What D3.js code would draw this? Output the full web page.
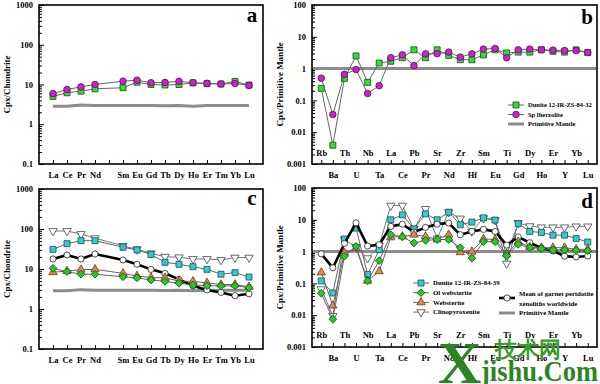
<html>
<head>
<script src="https://cdnjs.cloudflare.com/ajax/libs/d3/7.8.5/d3.min.js"></script>
<style>
body { margin: 0; background: #fff; }
text { font-family: "Liberation Serif", "Times New Roman", serif; font-weight: bold; }
</style>
</head>
<body></body>
<script>
// categories
var reeAxis = ["La","Ce","Pr","Nd","Pm","Sm","Eu","Gd","Tb","Dy","Ho","Er","Tm","Yb","Lu"];
var ree = ["La","Ce","Pr","Nd","Sm","Eu","Gd","Tb","Dy","Ho","Er","Tm","Yb","Lu"];
var spider = ["Rb","Ba","Th","U","Nb","Ta","La","Ce","Pb","Pr","Sr","Nd","Zr","Hf","Sm","Eu","Ti","Gd","Dy","Ho","Er","Y","Yb","Lu"];
var chondriteTicks = [0.1, 1, 10, 100, 1000];
var mantleTicks = [0.001, 0.01, 0.1, 1, 10, 100];

// panel a
var pmChondrite = [2.85, 2.85, 3.05, 2.95, 2.95, 2.95, 2.95, 2.9, 2.95, 2.85, 2.95, 2.95, 2.95, 2.95];
var dunite32Ree = [5.0, 6.2, 6.8, 7.8, 8.3, 11.4, 10.0, 9.7, 10.0, 11.0, 10.5, 10.3, 11.9, 9.7];
var lherzRee = [5.9, 7.5, 8.7, 10.0, 12.1, 12.8, 11.1, 11.3, 12.0, 11.1, 10.7, 10.3, 10.6, 9.5];

// panel b
var dunite32Spider = [0.24, 0.0039, 0.49, 2.5, 0.37, 1.5, 1.7, 2.2, 3.9, 2.2, 3.9, 2.6, 1.9, 1.9, 2.7, 3.9, 3.1, 3.3, 3.3, 3.9, 3.5, 3.3, 3.9, 3.2];
var lherzSpider = [0.5, 0.036, 0.66, 0.93, 0.165, 0.29, 2.2, 2.7, 1.24, 2.9, 2.95, 3.3, 2.3, 2.9, 4.1, 4.3, 2.2, 3.9, 4.1, 3.9, 3.8, 3.7, 3.7, 3.2];

// panel c
var clinoRee = [89, 89, 75, 59, 38, 31, 24.7, 20.3, 19.6, 17.8, 17.8, 16.8, 19.3, 19.3];
var dunite39Ree = [31, 43, 51, 51, 35, 30, 23, 14.7, 13.1, 11.4, 9.8, 7.4, 8.1, 6.3];
var meanRee = [17.8, 22.4, 17.8, 23.7, 16.8, 13.1, 9.8, 7.8, 5.5, 3.8, 3.0, 2.6, 2.15, 2.4];
var webRee = [8.3, 8.9, 9.6, 9.8, 7.8, 6.7, 6.1, 6.0, 5.0, 4.9, 4.5, 4.1, 4.1, 3.6];
var olWebRee = [10.4, 8.6, 7.4, 7.4, 6.4, 6.0, 5.3, 4.9, 4.4, 4.0, 3.8, 3.8, 3.8, 3.4];

// panel d
var clinoSpider = [0.066, 0.0095, 2.4, 1.4, 0.62, 1.55, 28, 28, 5.2, 22, 2.6, 17.4, 11, 4.3, 11.3, 9.8, 0.42, 8.0, 6.3, 5.8, 5.8, 5.8, 6.2, 6.2];
var dunite39Spider = [0.12, 0.05, 2.5, 5.5, 0.19, 1.15, 10, 14.3, 5.2, 15.4, 10, 17.4, 7, 8.5, 11.5, 9.8, 0.83, 7.5, 4.3, 4.0, 3.3, 3.3, 2.6, 2.0];
var meanSpider = [0.85, 0.31, 1.8, 8.0, 1.5, 1.65, 6.2, 7.3, 4.1, 5.75, 7.3, 7.9, 3.4, 4.3, 5.0, 4.3, 1.6, 2.9, 1.9, 1.3, 1.05, 0.72, 0.68, 0.73];
var webSpider = [0.22, 0.02, 0.91, 1.3, 0.12, 0.24, 2.8, 3.0, 3.4, 3.0, 2.4, 3.4, 0.95, 1.0, 2.5, 2.4, 0.85, 2.05, 1.4, 1.33, 1.33, 1.33, 1.18, 1.18];
var olWebSpider = [0.049, 0.0075, 0.72, 1.45, 0.12, 0.52, 3.4, 2.9, 1.87, 2.25, 2.4, 2.4, 1.33, 0.62, 2.05, 2.05, 0.75, 1.7, 1.33, 1.24, 1.13, 1.13, 1.1, 1.07];

var svg = d3.select("body").append("svg").attr("width", 600).attr("height", 384);

var sty = {
  dun32: {symbol: d3.symbolSquare, size: 36, fill: "#33dd33", stroke: "#1a4d1a", line: "#666", lw: 1},
  lherz: {symbol: d3.symbolCircle, size: 34, fill: "#cc22cc", stroke: "#551155", line: "#666", lw: 1},
  dun39: {symbol: d3.symbolSquare, size: 36, fill: "#33cccc", stroke: "#1a4d55", line: "#666", lw: 1},
  olweb: {symbol: d3.symbolSquare, size: 30, rot: 45, fill: "#22cc22", stroke: "#145214", line: "#666", lw: 1},
  web: {symbol: d3.symbolTriangle, size: 30, fill: "#e08850", stroke: "#6b3a1a", line: "#666", lw: 1},
  clino: {symbol: d3.symbolTriangle, size: 30, rot: 180, fill: "#fff", stroke: "#444", line: "#777", lw: 1},
  mean: {symbol: d3.symbolCircle, size: 30, fill: "#fff", stroke: "#222", line: "#000", lw: 2.6},
  pm: {line: "#8c8c8c", lw: 3}
};

function minorTicks(dom) {
  var out = [];
  for (var e = Math.round(Math.log10(dom[0])); e < Math.round(Math.log10(dom[1])); e++)
    for (var k = 2; k < 10; k++) out.push(k * Math.pow(10, e));
  return out;
}

function marker(sel, s) {
  sel.append("path")
    .attr("d", d3.symbol().type(s.symbol).size(s.size))
    .attr("transform", s.rot ? "rotate(" + s.rot + ")" : null)
    .attr("fill", s.fill).attr("stroke", s.stroke).attr("stroke-width", 0.8);
}

function panel(p) {
  var g = svg.append("g");
  var x = d3.scalePoint().domain(p.cats).range([p.left, p.right]).padding(p.pad);
  var y = d3.scaleLog().domain(p.yDomain).range([p.bottom, p.top]);

  g.append("g").attr("transform", "translate(" + p.left + ",0)")
    .call(d3.axisLeft(y).tickValues(minorTicks(p.yDomain)).tickSize(-3).tickFormat(""))
    .call(function(a) { a.select(".domain").remove(); });
  g.append("g").attr("transform", "translate(" + p.left + ",0)")
    .call(d3.axisLeft(y).tickValues(p.yTicks).tickSizeInner(-5).tickSizeOuter(0).tickPadding(6).tickFormat(String))
    .call(function(a) { a.select(".domain").remove(); a.selectAll("text").attr("font-size", 8.5).attr("font-family", null); });

  var xa = g.append("g").attr("transform", "translate(0," + p.bottom + ")")
    .call(d3.axisBottom(x).tickSizeInner(-4).tickSizeOuter(0).tickPadding(8)
      .tickFormat(function(d) { return d === "Pm" ? "" : d; }))
    .call(function(a) { a.select(".domain").remove(); a.selectAll("text").attr("font-size", 8.5).attr("font-family", null); });
  if (p.twoRows) {
    xa.selectAll(".tick text").attr("y", function(d, i) { return i % 2 === 0 ? p.rowUp : 8; });
  }
  g.selectAll(".tick line").attr("stroke", "#000");

  g.append("rect").attr("x", p.left).attr("y", p.top)
    .attr("width", p.right - p.left).attr("height", p.bottom - p.top)
    .attr("fill", "none").attr("stroke", "#000").attr("stroke-width", 1.6);

  if (p.pmFlat) {
    g.append("line").attr("x1", p.left + 1).attr("x2", p.right - 1)
      .attr("y1", y(1)).attr("y2", y(1))
      .attr("stroke", sty.pm.line).attr("stroke-width", sty.pm.lw);
  }

  p.series.forEach(function(s) {
    var pts = s.keys.map(function(k, i) { return {k: k, v: s.values[i]}; });
    g.append("path").datum(pts)
      .attr("d", d3.line().x(function(d) { return x(d.k); }).y(function(d) { return y(d.v); }))
      .attr("fill", "none").attr("stroke", s.st.line).attr("stroke-width", s.st.lw);
    if (s.st.symbol) {
      g.selectAll(null).data(pts).enter().append("g")
        .attr("transform", function(d) { return "translate(" + x(d.k) + "," + y(d.v) + ")"; })
        .each(function() { marker(d3.select(this), s.st); });
    }
  });

  g.append("text").attr("x", p.letterX).attr("y", p.top + p.letterDy)
    .attr("text-anchor", "middle").attr("font-size", 21).text(p.letter);

  g.append("text")
    .attr("transform", "translate(" + p.titleX + "," + ((p.top + p.bottom) / 2) + ") rotate(-90)")
    .attr("text-anchor", "middle").attr("font-size", 9).text(p.title);
}

function legend(items, x0, y0, dy, fs) {
  items.forEach(function(it, i) {
    var g = svg.append("g").attr("transform", "translate(" + x0 + "," + (y0 + i * dy) + ")");
    g.append("line").attr("x1", 0).attr("x2", 16).attr("stroke", it.st.line).attr("stroke-width", it.st.lw);
    if (it.st.symbol) marker(g.append("g").attr("transform", "translate(8,0)"), it.st);
    it.text.forEach(function(t, j) {
      g.append("text").attr("x", 20).attr("y", j * 10 + (it.text.length > 1 ? -4 : 0)).attr("dy", "0.35em")
        .attr("font-size", fs).text(t);
    });
  });
}

panel({cats: reeAxis, pad: 1, left: 39, right: 263, top: 5, bottom: 164,
  yDomain: [0.1, 1000], yTicks: chondriteTicks, letter: "a", letterX: 252, letterDy: 17,
  title: "Cpx/Chondrite", titleX: 10,
  series: [
    {keys: ree, values: pmChondrite, st: sty.pm},
    {keys: ree, values: dunite32Ree, st: sty.dun32},
    {keys: ree, values: lherzRee, st: sty.lherz}
  ]});

panel({cats: spider, pad: 0.8, left: 312, right: 597, top: 5, bottom: 164, twoRows: true, rowUp: -14,
  yDomain: [0.001, 100], yTicks: mantleTicks, letter: "b", letterX: 587, letterDy: 19,
  title: "Cpx/Primitive Mantle", titleX: 283, pmFlat: true,
  series: [
    {keys: spider, values: dunite32Spider, st: sty.dun32},
    {keys: spider, values: lherzSpider, st: sty.lherz}
  ]});

panel({cats: reeAxis, pad: 1, left: 39, right: 263, top: 189, bottom: 349,
  yDomain: [0.1, 1000], yTicks: chondriteTicks, letter: "c", letterX: 252, letterDy: 16,
  title: "Cpx/Chondrite", titleX: 10,
  series: [
    {keys: ree, values: pmChondrite, st: sty.pm},
    {keys: ree, values: clinoRee, st: sty.clino},
    {keys: ree, values: dunite39Ree, st: sty.dun39},
    {keys: ree, values: meanRee, st: sty.mean},
    {keys: ree, values: webRee, st: sty.web},
    {keys: ree, values: olWebRee, st: sty.olweb}
  ]});

panel({cats: spider, pad: 0.8, left: 312, right: 597, top: 188, bottom: 347, twoRows: true, rowUp: -15,
  yDomain: [0.001, 100], yTicks: mantleTicks, letter: "d", letterX: 587, letterDy: 20,
  title: "Cpx/Primitive Mantle", titleX: 283, pmFlat: true,
  series: [
    {keys: spider, values: clinoSpider, st: sty.clino},
    {keys: spider, values: dunite39Spider, st: sty.dun39},
    {keys: spider, values: meanSpider, st: sty.mean},
    {keys: spider, values: webSpider, st: sty.web},
    {keys: spider, values: olWebSpider, st: sty.olweb}
  ]});

legend([
  {st: sty.dun32, text: ["Dunite 12-IR-ZS-84-32"]},
  {st: sty.lherz, text: ["Sp lherzolite"]},
  {st: sty.pm, text: ["Primitive Mantle"]}
], 508, 105, 9.5, 6.5);

legend([
  {st: sty.dun39, text: ["Dunite 12-IR-ZS-84-39"]},
  {st: sty.olweb, text: ["Ol websterite"]},
  {st: sty.web, text: ["Websterite"]},
  {st: sty.clino, text: ["Clinopyroxenite"]}
], 413, 283, 9.7, 6.8);

legend([
  {st: sty.mean, text: ["Mean of garnet peridotite", "xenoliths worldwide"]},
  {st: sty.pm, text: ["Primitive Mantle"]}
], 499, 298, 15, 6.8);

// watermark
svg.append("text").attr("x", 438).attr("y", 383).attr("font-size", 60).attr("fill", "#2e8424").text("X");
svg.append("text").attr("x", 481).attr("y", 381).attr("font-size", 30).attr("fill", "#2e8424")
  .attr("textLength", 117).attr("lengthAdjust", "spacingAndGlyphs").text("jishu.Com");
svg.append("text").attr("x", 495).attr("y", 357).attr("font-size", 22).attr("fill", "#3a9a2c")
  .attr("font-family", "Noto Sans CJK SC").text("技术网");
</script>
</html>
